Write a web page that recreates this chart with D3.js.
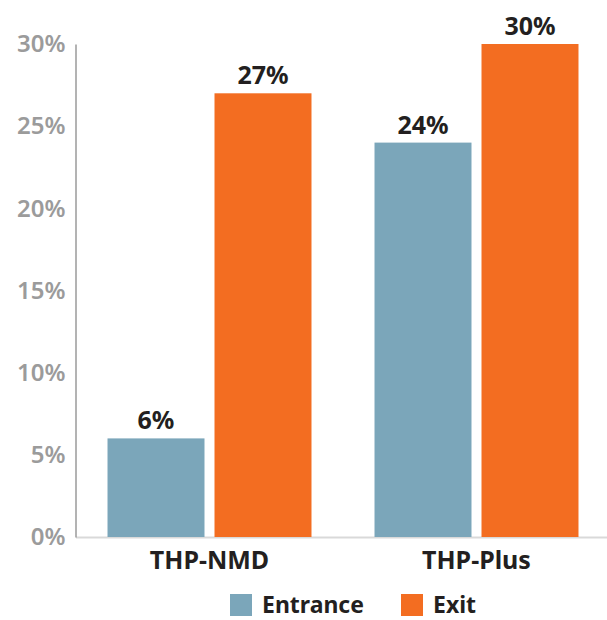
<!DOCTYPE html>
<html>
<head>
<meta charset="utf-8">
<script src="https://cdn.jsdelivr.net/npm/d3@7"></script>
<style>
  body { margin: 0; background: #fff; }
  text { font-family: "Noto Sans", "Open Sans", sans-serif; }
</style>
</head>
<body>
<script>
// data
var groups = ['THP-NMD', 'THP-Plus']
var series = ['Entrance', 'Exit']
var entrance = [6, 24]
var exit = [27, 30]
var yTicks = [0, 5, 10, 15, 20, 25, 30]
var colors = ['#7ba6ba', '#f36d21']

var W = 607, H = 620
var svg = d3.select('body').append('svg').attr('width', W).attr('height', H)

var x0 = d3.scaleBand().domain(groups).range([76, 610]).paddingInner(0.236).paddingOuter(0.118)
var x1 = d3.scaleBand().domain(series).range([0, x0.bandwidth()]).paddingInner(0.0935)
var y = d3.scaleLinear().domain([0, 30]).range([537, 44])

var rows = groups.map(function (g, i) {
  return { group: g, values: [entrance[i], exit[i]] }
})

// baseline
svg.append('line').attr('x1', 76).attr('x2', 607).attr('y1', y(0) + 0.5).attr('y2', y(0) + 0.5)
  .attr('stroke', '#d9d9d9').attr('stroke-width', 2)

// y axis
var yAxis = svg.append('g').attr('transform', 'translate(75.5,0)')
  .call(d3.axisLeft(y).tickValues(yTicks).tickSize(0).tickPadding(10).tickFormat(function (d) { return d + '%' }))
yAxis.select('.domain').attr('stroke', '#9a9a9a').attr('stroke-width', 1.5)
yAxis.selectAll('text').attr('fill', '#9b9b9b').style('font-size', '24px').style('font-weight', 600)
  .style('font-family', '"Noto Sans", sans-serif')

// bars
var g = svg.selectAll('g.grp').data(rows).enter().append('g').attr('class', 'grp')
  .attr('transform', function (d) { return 'translate(' + x0(d.group) + ',0)' })

g.selectAll('rect').data(function (d) { return d.values.map(function (v, i) { return { s: series[i], v: v, i: i } }) })
  .enter().append('rect')
  .attr('x', function (d) { return x1(d.s) })
  .attr('y', function (d) { return y(d.v) })
  .attr('width', x1.bandwidth())
  .attr('height', function (d) { return y(0) - y(d.v) })
  .attr('fill', function (d) { return colors[d.i] })

g.selectAll('text.val').data(function (d) { return d.values.map(function (v, i) { return { s: series[i], v: v } }) })
  .enter().append('text').attr('class', 'val')
  .attr('x', function (d) { return x1(d.s) + x1.bandwidth() / 2 })
  .attr('y', function (d) { return y(d.v) - 9 })
  .attr('text-anchor', 'middle')
  .attr('fill', '#231f20')
  .style('font-size', '25px').style('font-weight', 700)
  .text(function (d) { return d.v + '%' })

// x labels
svg.selectAll('text.cat').data(groups).enter().append('text').attr('class', 'cat')
  .attr('x', function (d) { return x0(d) + x0.bandwidth() / 2 })
  .attr('y', 569)
  .attr('text-anchor', 'middle')
  .attr('fill', '#231f20')
  .style('font-size', '25px').style('font-weight', 700)
  .text(function (d) { return d })

// legend
var legX = [230, 401]
var leg = svg.selectAll('g.leg').data(series).enter().append('g').attr('class', 'leg')
  .attr('transform', function (d, i) { return 'translate(' + legX[i] + ',594)' })
leg.append('rect').attr('width', 22).attr('height', 22).attr('fill', function (d, i) { return colors[i] })
leg.append('text').attr('x', 32).attr('y', 19).attr('fill', '#231f20')
  .style('font-size', '23px').style('font-weight', 700)
  .text(function (d) { return d })
</script>
</body>
</html>
